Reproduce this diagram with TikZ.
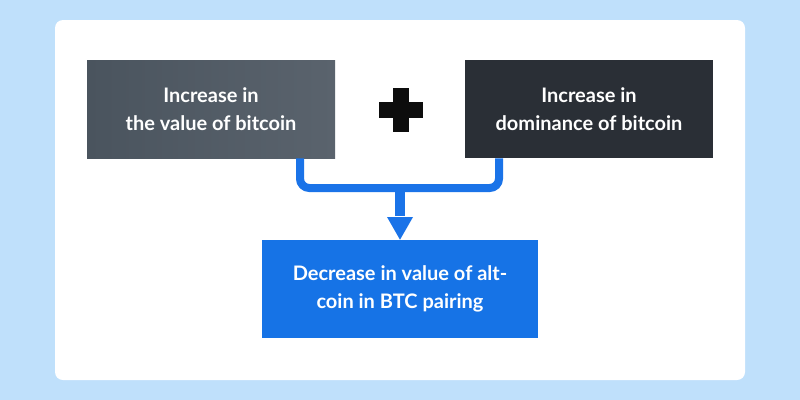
\documentclass[tikz,border=0pt]{standalone}
\usepackage{fontspec}
\setmainfont{Lato}
\definecolor{bgblue}{HTML}{BFE0FB}
\definecolor{grayA}{HTML}{4A545E}
\definecolor{grayB}{HTML}{5A636D}
\definecolor{darkbox}{HTML}{2A2F36}
\definecolor{bluebox}{HTML}{1673E6}
\definecolor{arrowblue}{HTML}{1A73E8}
\begin{document}
\begin{tikzpicture}[x=0.75pt,y=-0.75pt,
  box/.style={minimum width=186pt,minimum height=73.5pt,inner sep=0pt,align=center,text=white,font=\bfseries\fontsize{15}{21}\selectfont},
  conn/.style={draw=arrowblue,line width=6pt,rounded corners=7pt}]
\useasboundingbox (0,0) rectangle (800,400);
\fill[bgblue] (0,0) rectangle (800,400);
\fill[white,rounded corners=6pt] (55,20) rectangle (745,380);
\node[box,left color=grayA,right color=grayB] (L) at (211,109) {Increase in\\the value of bitcoin};
\node[box,fill=darkbox] (R) at (589,109) {Increase in\\dominance of bitcoin};
\node[box,fill=bluebox,minimum width=207pt] (B) at (400,289) {Decrease in value of alt-\\coin in BTC pairing};
\node[inner sep=0pt,minimum size=1pt] (P) at (400.5,109.5) {};
\fill[black!95] ([xshift=-16.5pt,yshift=6pt]P.center) rectangle ([xshift=16.5pt,yshift=-6pt]P.center);
\fill[black!95] ([xshift=-6pt,yshift=16.5pt]P.center) rectangle ([xshift=6pt,yshift=-16.5pt]P.center);
\coordinate (J) at (400,188);
\coordinate (Jt) at (400,217);
\draw[conn] (L.south -| 300,0) -- (300,188) -- (400,188);
\draw[conn] (R.south -| 499,0) -- (499,188) -- (400,188);
\draw[draw=arrowblue,line width=7.5pt] (J) -- ([yshift=1pt]Jt);
\fill[arrowblue] (387,217) -- (413,217) -- (B.north) -- cycle;
\end{tikzpicture}
\end{document}
